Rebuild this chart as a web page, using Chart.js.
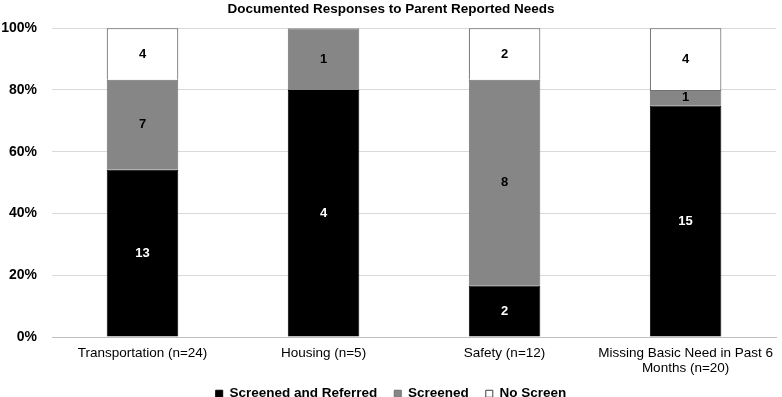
<!DOCTYPE html>
<html>
<head>
<meta charset="utf-8">
<script src="https://cdn.jsdelivr.net/npm/chart.js@4/dist/chart.umd.min.js"></script>
<style>
  body { margin: 0; overflow: hidden; background: #fff; }
  canvas { display: block; }
</style>
</head>
<body>
<canvas id="myChart" width="782" height="397"></canvas>
<script>
const categories = ['Transportation (n=24)', 'Housing (n=5)', 'Safety (n=12)', ['Missing Basic Need in Past 6', 'Months (n=20)']];
const screenedReferred = [13, 4, 2, 15];
const screened = [7, 1, 8, 1];
const noScreen = [4, 0, 2, 4];
const yTicks = [0, 20, 40, 60, 80, 100];

const totals = categories.map((c, i) => screenedReferred[i] + screened[i] + noScreen[i]);
const toPct = arr => arr.map((v, i) => v / totals[i] * 100);

const FONT = "'Liberation Sans', Arial, sans-serif";

// count labels in the middle of each segment
const countLabels = {
  id: 'countLabels',
  afterDatasetsDraw(chart) {
    const ctx = chart.ctx;
    ctx.save();
    ctx.font = 'bold 13px ' + FONT;
    ctx.textAlign = 'center';
    ctx.textBaseline = 'middle';
    chart.data.datasets.forEach((ds, di) => {
      const meta = chart.getDatasetMeta(di);
      meta.data.forEach((bar, i) => {
        const n = ds.counts[i];
        if (!n) return;
        ctx.fillStyle = di === 0 ? '#fff' : '#000';
        ctx.fillText(n, bar.x, (bar.y + bar.base) / 2);
      });
    });
    ctx.restore();
  }
};

// legend box is squeezed with maxHeight, draw it a bit higher
const moveLegend = {
  id: 'moveLegend',
  afterLayout(chart) {
    if (chart.legend) chart.legend.top -= 6;
  }
};

new Chart(document.getElementById('myChart'), {
  type: 'bar',
  data: {
    labels: categories,
    datasets: [
      { label: 'Screened and Referred', data: toPct(screenedReferred), counts: screenedReferred,
        backgroundColor: '#000', borderColor: '#000', borderWidth: 1 },
      { label: 'Screened', data: toPct(screened), counts: screened,
        backgroundColor: '#868686', borderColor: '#707070', borderWidth: 1 },
      { label: 'No Screen', data: toPct(noScreen), counts: noScreen,
        backgroundColor: '#fff', borderColor: '#404040', borderWidth: 1 }
    ]
  },
  options: {
    responsive: false,
    animation: false,
    events: [],
    barPercentage: 0.395,
    categoryPercentage: 1,
    layout: { padding: 0 },
    plugins: {
      title: {
        display: true,
        text: 'Documented Responses to Parent Reported Needs',
        color: '#000',
        font: { family: FONT, size: 13.5, weight: 'bold' },
        padding: { top: 1, bottom: 11 }
      },
      legend: {
        position: 'bottom',
        maxHeight: 21,
        labels: {
          color: '#000',
          font: { family: FONT, size: 13.5, weight: 'bold' },
          boxWidth: 7,
          boxHeight: 7,
          padding: 17
        }
      },
      tooltip: { enabled: false }
    },
    scales: {
      x: {
        stacked: true,
        grid: { display: false, drawTicks: false },
        border: { display: true, color: '#bfbfbf' },
        ticks: { color: '#000', font: { family: FONT, size: 13.5, lineHeight: 1.12 },
                 maxRotation: 0, autoSkip: false, padding: 9 },
        afterFit(scale) { scale.height = 39; }
      },
      y: {
        stacked: true,
        min: 0,
        max: 100,
        afterBuildTicks(scale) { scale.ticks = yTicks.map(v => ({ value: v })); },
        grid: { color: '#d9d9d9', drawTicks: false },
        border: { display: false },
        ticks: { color: '#000', font: { family: FONT, size: 14, weight: 'bold' }, padding: 15,
                 callback: v => v + '%' },
        afterFit(scale) { scale.width = 52; }
      }
    }
  },
  plugins: [countLabels, moveLegend]
});
</script>
</body>
</html>
